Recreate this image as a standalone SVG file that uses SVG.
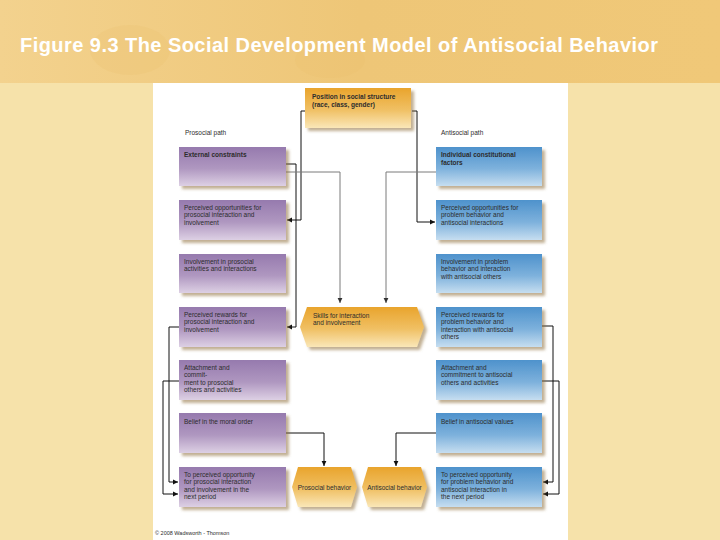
<svg xmlns="http://www.w3.org/2000/svg" width="720" height="540" viewBox="0 0 720 540">
<defs>
  <linearGradient id="gp" x1="0" y1="0" x2="0" y2="1">
    <stop offset="0" stop-color="#967AAE"/>
    <stop offset="0.55" stop-color="#AF97C0"/>
    <stop offset="1" stop-color="#DDD0E4"/>
  </linearGradient>
  <linearGradient id="gb" x1="0" y1="0" x2="0" y2="1">
    <stop offset="0" stop-color="#4E92CC"/>
    <stop offset="0.55" stop-color="#7DB1DC"/>
    <stop offset="1" stop-color="#C6DEF0"/>
  </linearGradient>
  <linearGradient id="go" x1="0" y1="0" x2="0" y2="1">
    <stop offset="0" stop-color="#E9A42C"/>
    <stop offset="0.55" stop-color="#F0C064"/>
    <stop offset="1" stop-color="#FAE7B8"/>
  </linearGradient>
  <linearGradient id="gband" x1="0" y1="0" x2="1" y2="0">
    <stop offset="0" stop-color="#F3D28E"/>
    <stop offset="0.5" stop-color="#EEC677"/>
    <stop offset="1" stop-color="#F0C878"/>
  </linearGradient>
  <filter id="sh" x="-10%" y="-10%" width="130%" height="140%">
    <feDropShadow dx="3" dy="3" stdDeviation="1.4" flood-color="#8E6E3A" flood-opacity="0.55"/>
  </filter>
  <marker id="ah" markerWidth="6" markerHeight="6" refX="5" refY="3" orient="auto" markerUnits="userSpaceOnUse">
    <path d="M0,0.6 L5,3 L0,5.4 z" fill="#111"/>
  </marker>
  <marker id="ahg" markerWidth="6" markerHeight="6" refX="5" refY="3" orient="auto" markerUnits="userSpaceOnUse">
    <path d="M0,0.6 L5,3 L0,5.4 z" fill="#333"/>
  </marker>
</defs>
<style>
  .t { font-family: "Liberation Sans", Arial, sans-serif; font-size: 6.5px; fill: #2c2c2c; }
  .b { font-weight: bold; }
  .ln { stroke: #111; stroke-width: 1; fill: none; marker-end: url(#ah); }
  .lg { stroke: #7A7A7A; stroke-width: 1; fill: none; marker-end: url(#ahg); }
  .pu { fill: url(#gp); filter: url(#sh); }
  .bl { fill: url(#gb); filter: url(#sh); }
  .or { fill: url(#go); filter: url(#sh); }
  .title { font-family: "Liberation Sans", Arial, sans-serif; font-size: 20px; font-weight: bold; fill: #FFFFFF; letter-spacing: 0.45px; }
</style>

<!-- background -->
<rect x="0" y="0" width="720" height="540" fill="#F6E2AA"/>
<rect x="0" y="0" width="720" height="83" fill="url(#gband)"/>
<ellipse cx="130" cy="50" rx="40" ry="25" fill="#EBBE6A" opacity="0.2"/>
<ellipse cx="330" cy="60" rx="35" ry="18" fill="#EBBD68" opacity="0.18"/>
<rect x="153" y="83" width="415" height="457" fill="#FFFFFF"/>
<text class="title" x="20" y="52">Figure 9.3 The Social Development Model of Antisocial Behavior</text>

<text class="t" x="185" y="135">Prosocial path</text>
<text class="t" x="441" y="135">Antisocial path</text>

<!-- connectors -->
<g id="connectors">
  <path class="ln" d="M305,111 H301 V220 H287"/>
  <path class="ln" d="M412,111 H417 V222 H435"/>
  <path class="ln" d="M286,164 H296 V327 H287"/>
  <path class="lg" d="M286,172 H340 V303"/>
  <path class="lg" d="M436,172 H386 V303"/>
  <path class="ln" d="M179,327 H169 V482 H178"/>
  <path class="ln" d="M179,381 H163 V494 H178"/>
  <path class="ln" d="M542,326 H553 V482 H543"/>
  <path class="ln" d="M542,381 H559 V494 H543"/>
  <path class="ln" d="M286,433 H324 V466"/>
  <path class="ln" d="M436,433 H396 V466"/>
</g>

<!-- top node -->
<g id="position">
  <rect class="or" x="305" y="88" width="106" height="40"/>
  <text class="t b" x="312" y="99">Position in social structure</text>
  <text class="t b" x="312" y="106.5">(race, class, gender)</text>
</g>

<!-- left column -->
<g id="external-constraints">
  <rect class="pu" x="179" y="147" width="107" height="39"/>
  <text class="t b" x="184" y="157">External constraints</text>
</g>
<g id="pro-opportunities">
  <rect class="pu" x="179" y="200" width="107" height="40"/>
  <text class="t" x="184" y="209.5">Perceived opportunities for</text>
  <text class="t" x="184" y="217">prosocial interaction and</text>
  <text class="t" x="184" y="224.5">involvement</text>
</g>
<g id="pro-involvement">
  <rect class="pu" x="179" y="254" width="107" height="39"/>
  <text class="t" x="184" y="263.5">Involvement in prosocial</text>
  <text class="t" x="184" y="271">activities and interactions</text>
</g>
<g id="pro-rewards">
  <rect class="pu" x="179" y="307" width="107" height="40"/>
  <text class="t" x="184" y="316.5">Perceived rewards for</text>
  <text class="t" x="184" y="324">prosocial interaction and</text>
  <text class="t" x="184" y="331.5">involvement</text>
</g>
<g id="pro-attachment">
  <rect class="pu" x="179" y="360" width="107" height="40"/>
  <text class="t" x="184" y="369.5">Attachment and</text>
  <text class="t" x="184" y="377">commit-</text>
  <text class="t" x="184" y="384.5">ment to prosocial</text>
  <text class="t" x="184" y="392">others and activities</text>
</g>
<g id="pro-belief">
  <rect class="pu" x="179" y="413" width="107" height="40"/>
  <text class="t" x="184" y="423.5">Belief in the moral order</text>
</g>
<g id="pro-next">
  <rect class="pu" x="179" y="467" width="107" height="40"/>
  <text class="t" x="184" y="476.5">To perceived opportunity</text>
  <text class="t" x="184" y="484">for prosocial interaction</text>
  <text class="t" x="184" y="491.5">and involvement in the</text>
  <text class="t" x="184" y="499">next period</text>
</g>

<!-- right column -->
<g id="individual-factors">
  <rect class="bl" x="436" y="147" width="106" height="39"/>
  <text class="t b" x="441" y="157">Individual constitutional</text>
  <text class="t b" x="441" y="164.5">factors</text>
</g>
<g id="anti-opportunities">
  <rect class="bl" x="436" y="200" width="106" height="40"/>
  <text class="t" x="441" y="209.5">Perceived opportunities for</text>
  <text class="t" x="441" y="217">problem behavior and</text>
  <text class="t" x="441" y="224.5">antisocial interactions</text>
</g>
<g id="anti-involvement">
  <rect class="bl" x="436" y="254" width="106" height="39"/>
  <text class="t" x="441" y="263.5">Involvement in problem</text>
  <text class="t" x="441" y="271">behavior and interaction</text>
  <text class="t" x="441" y="278.5">with antisocial others</text>
</g>
<g id="anti-rewards">
  <rect class="bl" x="436" y="307" width="106" height="40"/>
  <text class="t" x="441" y="316.5">Perceived rewards for</text>
  <text class="t" x="441" y="324">problem behavior and</text>
  <text class="t" x="441" y="331.5">interaction with antisocial</text>
  <text class="t" x="441" y="339">others</text>
</g>
<g id="anti-attachment">
  <rect class="bl" x="436" y="360" width="106" height="40"/>
  <text class="t" x="441" y="369.5">Attachment and</text>
  <text class="t" x="441" y="377">commitment to antisocial</text>
  <text class="t" x="441" y="384.5">others and activities</text>
</g>
<g id="anti-belief">
  <rect class="bl" x="436" y="413" width="106" height="40"/>
  <text class="t" x="441" y="423.5">Belief in antisocial values</text>
</g>
<g id="anti-next">
  <rect class="bl" x="436" y="467" width="106" height="40"/>
  <text class="t" x="441" y="476.5">To perceived opportunity</text>
  <text class="t" x="441" y="484">for problem behavior and</text>
  <text class="t" x="441" y="491.5">antisocial interaction in</text>
  <text class="t" x="441" y="499">the next period</text>
</g>

<!-- center hexagons -->
<g id="skills">
  <polygon class="or" points="300,327 307,307 417,307 424,327 417,347 307,347"/>
  <text class="t" x="313" y="317.5">Skills for interaction</text>
  <text class="t" x="313" y="325">and involvement</text>
</g>
<g id="prosocial-behavior">
  <polygon class="or" points="292,487 298,467 351,467 357,487 351,507 298,507"/>
  <text class="t" x="324.5" y="490" text-anchor="middle">Prosocial behavior</text>
</g>
<g id="antisocial-behavior">
  <polygon class="or" points="362,487 368,467 421,467 427,487 421,507 368,507"/>
  <text class="t" x="394.5" y="490" text-anchor="middle">Antisocial behavior</text>
</g>

<text class="t" x="155" y="535" style="font-size:5.5px">© 2008 Wadsworth - Thomson</text>
</svg>
